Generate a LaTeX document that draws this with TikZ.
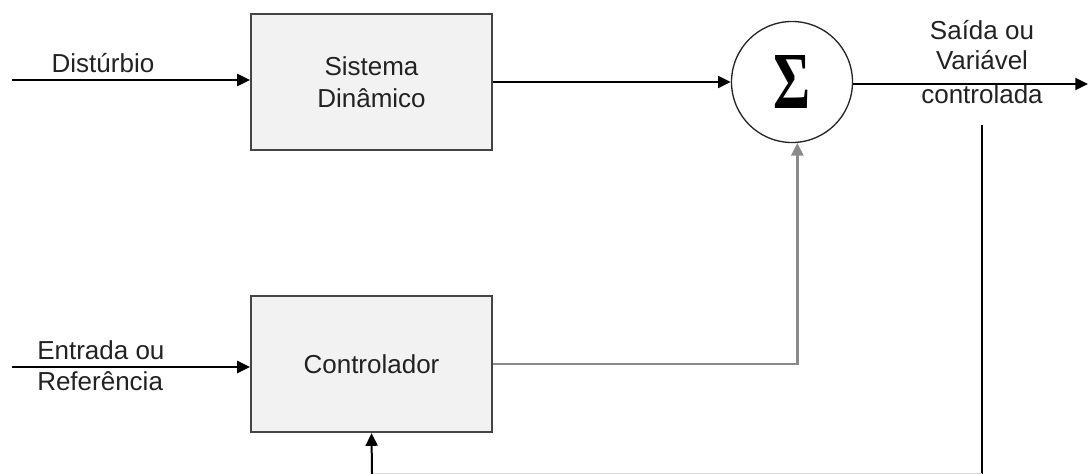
\documentclass[tikz,border=0pt]{standalone}
\usepackage{fontspec}
\usepackage{graphicx}
\setmainfont{Liberation Sans}
\newfontfamily\sigmafont{Liberation Serif}
\usetikzlibrary{arrows.meta,calc}

\definecolor{boxfill}{HTML}{F2F2F2}
\definecolor{boxedge}{HTML}{444444}
\definecolor{txt}{HTML}{222222}
\definecolor{ctrlline}{HTML}{8A8A8A}
\definecolor{fbline}{HTML}{D8D8D8}

\begin{document}
\begin{tikzpicture}[x=0.75pt,y=-0.75pt,
  lbl/.style={font=\fontsize{19.5}{23.5}\selectfont, text=txt, inner sep=0pt},
  block/.style={draw=boxedge, line width=1.7pt, fill=boxfill,
    minimum width=180.75pt, minimum height=102pt, inner sep=0pt,
    align=center, font=\fontsize{19.5}{24}\selectfont, text=txt},
  sumnode/.style={draw=black!85, line width=1pt, circle, fill=white,
    minimum size=90.75pt, inner sep=0pt},
  sig/.style={line width=1.5pt, draw=black, -{Triangle[length=9.5pt,width=9pt]}},
  plain/.style={line width=1.5pt, draw=black},
]
\useasboundingbox (0,0) rectangle (1088,474);

% blocks and summing junction
\node[block] (sys)  at (371.5,82)  {Sistema\\Dinâmico};
\node[block] (ctrl) at (371.5,364) {Controlador};
\node[sumnode] (sum) at (792,82)
  {\resizebox{27.75pt}{39.75pt}{\sigmafont\bfseries Σ}};

% free ends of the signal lines
\coordinate (dist)   at (12,80);
\coordinate (ref)    at (12,367);
\coordinate (out)    at (1088,84);
\coordinate (fbtop)  at (982,125);
\coordinate (fbbot)  at (982,474);
\coordinate (fbleft) at (372,474);

% labels
\node[lbl, anchor=base] (ldist) at (103,73) {Distúrbio};
\node[lbl, anchor=base west] (lin1) at (37,359) {Entrada ou};
\node[lbl, anchor=base west] (lin2) at (37,390) {Referência};
\node[lbl, anchor=base] (lout1) at (982,40)  {Saída ou};
\node[lbl, anchor=base] (lout2) at (982,70)  {Variável};
\node[lbl, anchor=base] (lout3) at (982,104) {controlada};

% disturbance and reference inputs
\draw[sig] (dist) -- (dist -| sys.west);
\draw[sig] (ref) -- (ref -| ctrl.west);

% plant output into the summing junction
\draw[sig] (sys.east) -- (sum.west);

% controller output up into the junction
\draw[sig, draw=ctrlline, line width=2pt] (ctrl.east) -| (sum.-85);

% controlled output
\draw[sig] (sum.east |- out) -- (out);

% feedback path
\draw[plain] (fbtop) -- (fbbot);
\draw[plain, draw=fbline] (fbbot) -- (fbleft);
\draw[sig] (fbleft) -- (ctrl.south);
\end{tikzpicture}
\end{document}
